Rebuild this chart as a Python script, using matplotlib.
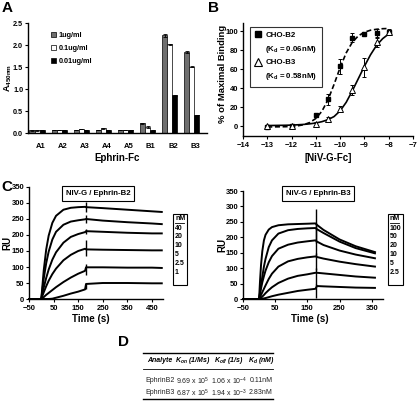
import matplotlib
matplotlib.use("Agg")
import matplotlib.pyplot as plt
from matplotlib.lines import Line2D
from matplotlib.patches import Patch, Rectangle
import numpy as np

plt.rcParams['font.family'] = ['Liberation Sans', 'DejaVu Sans']
plt.rcParams['font.weight'] = 'bold'
plt.rcParams['axes.labelweight'] = 'bold'
plt.rcParams['axes.linewidth'] = 1.0
plt.rcParams['xtick.major.width'] = 0.8
plt.rcParams['ytick.major.width'] = 0.8
plt.rcParams['xtick.major.size'] = 2.5
plt.rcParams['ytick.major.size'] = 2.5
plt.rcParams['xtick.labelsize'] = 5.5
plt.rcParams['ytick.labelsize'] = 5.5
plt.rcParams['xtick.major.pad'] = 1.5
plt.rcParams['ytick.major.pad'] = 1

# ---- A: ELISA binding of NiV-G to ephrin-Fc
ephrins = ['A1', 'A2', 'A3', 'A4', 'A5', 'B1', 'B2', 'B3']
a_1ug = [0.06, 0.07, 0.07, 0.07, 0.07, 0.22, 2.22, 1.84]
a_01ug = [0.06, 0.07, 0.09, 0.11, 0.07, 0.14, 2.02, 1.51]
a_001ug = [0.06, 0.06, 0.06, 0.06, 0.07, 0.06, 0.86, 0.41]
a_1ug_err = [0.005, 0.005, 0.005, 0.005, 0.005, 0.015, 0.03, 0.02]
a_01ug_err = [0.005, 0.005, 0.01, 0.01, 0.005, 0.02, 0.01, 0.02]
a_001ug_err = [0.003, 0.003, 0.003, 0.003, 0.003, 0.005, 0.01, 0.01]

# ---- B: cell binding
b_logc = [-13, -12, -11, -10.5, -10, -9.5, -9, -8.5, -8]
b2_pct = [-1, 0, 12, 28, 63, 93, 97, 98, 99]
b2_err = [1, 1, 2, 6, 8, 5, 1, 4, 2]
b3_pct = [0, 0, 2, 7, 18, 38, 62, 88, 99]
b3_err = [1, 1, 2, 2, 3, 5, 10, 5, 3]
fit_logc = [-13, -12.75, -12.5, -12.25, -12, -11.75, -11.5, -11.25, -11, -10.75, -10.5,
            -10.25, -10, -9.75, -9.5, -9.25, -9, -8.75, -8.5, -8.25, -8]
b2_fit = [-1, -0.9, -0.8, -0.7, -0.4, 0.2, 1.4, 3.7, 8, 15.6, 27.6,
          43.9, 61.6, 77.1, 88.2, 95, 98.8, 100.9, 101.9, 102.5, 102.7]
b3_fit = [0.5, 0.6, 0.7, 0.8, 1.0, 1.3, 1.7, 2.3, 3.2, 4.6, 6.7,
          10, 16, 25, 37, 50, 63, 75, 85, 92, 97]

# ---- C: SPR sensorgrams
t_b2 = [-50, 0, 5, 10, 20, 30, 45, 60, 90, 120, 150, 178, 182, 250, 350, 450, 490]
b2_nM = ['40', '20', '10', '5', '2.5', '1']
b2_ru = [
    [0, 0, 45, 90, 155, 198, 238, 260, 279, 285, 287, 288, 287, 284, 279, 274, 272],
    [0, 0, 32, 64, 112, 148, 186, 210, 232, 242, 246, 249, 250, 245, 240, 236, 234],
    [0, 0, 18, 36, 66, 92, 123, 146, 176, 194, 203, 209, 212, 210, 207, 205, 205],
    [0, 0, 11, 21, 40, 57, 78, 95, 121, 138, 150, 157, 155, 154, 153, 152, 152],
    [0, 0, 3, 6, 13, 19, 28, 37, 53, 67, 79, 88, 99, 99, 98, 98, 97],
    [0, 0, 0, 0, 0, 0, 1, 4, 10, 17, 23, 30, 47, 50, 50, 49, 49],
]
b2_spike_t = 180
b2_spike = [(272, 303), (238, 262), (203, 220), (135, 185), (75, 108), (30, 48)]

t_b3 = [-50, 0, 3, 6, 10, 15, 20, 30, 40, 60, 90, 120, 150, 175, 180, 200, 250, 300, 360]
b3_nM = ['100', '50', '20', '10', '5', '2.5']
b3_ru = [
    [0, 0, 60, 110, 155, 190, 208, 225, 233, 239, 242, 243, 244, 245, 240, 224, 193, 171, 152],
    [0, 0, 22, 45, 72, 105, 130, 168, 190, 212, 223, 227, 229, 230, 226, 214, 186, 165, 148],
    [0, 0, 18, 34, 54, 74, 92, 119, 139, 163, 176, 183, 187, 190, 186, 175, 157, 144, 132],
    [0, 0, 6, 13, 22, 33, 44, 65, 82, 105, 122, 130, 135, 138, 136, 131, 121, 113, 105],
    [0, 0, 2, 4, 8, 13, 19, 29, 38, 52, 66, 75, 80, 85, 85, 83, 78, 73, 69],
    [0, 0, 0, 0, 1, 2, 3, 6, 9, 14, 20, 26, 30, 33, 42, 41, 39, 37, 36],
]
b3_spike_t = 177
b3_spike = [(200, 292), (180, 245), (140, 200), (95, 150), (45, 100), (2, 50)]

# ---- D: kinetic constants
d_header = ['Analyte', 'K$_\\mathregular{on}$ (1/Ms)', 'K$_\\mathregular{off}$ (1/s)', 'K$_\\mathregular{d}$ (nM)']
d_analyte = ['EphrinB2', 'EphrinB3']
d_kon = ['9.69 x 10$^\\mathregular{5}$', '6.87 x 10$^\\mathregular{5}$']
d_koff = ['1.06 x 10$^\\mathregular{-4}$', '1.94 x 10$^\\mathregular{-3}$']
d_kd = ['0.11nM', '2.83nM']

W, H = 418, 401


def box(left, top, right, bottom):
    return [left / W, 1 - bottom / H, (right - left) / W, (bottom - top) / H]


def fx(px):
    return px / W


def fy(py):
    return 1 - py / H


fig = plt.figure(figsize=(W / 100, H / 100), dpi=100)

# ================= A
axA = fig.add_axes(box(28, 23, 207, 133))
x = np.arange(len(ephrins))
bw = 0.23
ekw = dict(elinewidth=0.6, capsize=1.2, capthick=0.6, ecolor='black')
axA.bar(x - bw, a_1ug, bw, yerr=a_1ug_err, color='#6f6f6f', edgecolor='black',
        linewidth=0.5, error_kw=ekw)
axA.bar(x, a_01ug, bw, yerr=a_01ug_err, color='white', edgecolor='black',
        linewidth=0.5, error_kw=ekw)
axA.bar(x + bw, a_001ug, bw, yerr=a_001ug_err, color='black', edgecolor='black',
        linewidth=0.5, error_kw=ekw)
axA.set_xlim(-0.41, 7.69)
axA.set_ylim(0, 2.5)
axA.set_yticks([0, 0.5, 1.0, 1.5, 2.0, 2.5])
axA.set_yticklabels(['0.0', '0.5', '1.0', '1.5', '2.0', '2.5'])
axA.tick_params(axis='y', labelsize=5.2)
axA.set_xticks(x + 0.15)
axA.set_xticklabels(ephrins)
axA.tick_params(axis='x', length=0, pad=7)
axA.set_ylabel('A$_\\mathregular{450nm}$', fontsize=6.5)
axA.yaxis.set_label_coords(-0.078, 0.5)
axA.set_xlabel('Ephrin-Fc', fontsize=7)
axA.xaxis.set_label_coords(0.5, -0.18)
handles = [Patch(facecolor='#6f6f6f', edgecolor='black', linewidth=0.5),
           Patch(facecolor='white', edgecolor='black', linewidth=0.5),
           Patch(facecolor='black', edgecolor='black', linewidth=0.5)]
axA.legend(handles, ['1ug/ml', '0.1ug/ml', '0.01ug/ml'], loc='upper left',
           bbox_to_anchor=(0.09, 0.98), frameon=False, fontsize=5.2,
           handlelength=0.7, handleheight=0.7, handletextpad=0.4, labelspacing=0.85)

# ================= B
axB = fig.add_axes(box(243, 23, 413, 136))
axB.plot(fit_logc, b2_fit, color='black', lw=1.2, dashes=(3, 1.6))
axB.plot(fit_logc, b3_fit, color='black', lw=1.2)
axB.errorbar(b_logc, b2_pct, yerr=b2_err, fmt='s', color='black', ms=3,
             capsize=1.5, elinewidth=0.7, capthick=0.7)
axB.errorbar(b_logc, b3_pct, yerr=b3_err, fmt='^', mfc='white', mec='black',
             ecolor='black', ms=4.2, mew=0.7, capsize=1.5, elinewidth=0.7, capthick=0.7)
axB.set_xlim(-14, -7)
axB.set_ylim(-10.5, 108.5)
axB.set_xticks(range(-14, -6))
axB.set_yticks([0, 20, 40, 60, 80, 100])
axB.set_ylabel('% of Maximal Binding', fontsize=6.8)
axB.yaxis.set_label_coords(-0.095, 0.55)
axB.set_xlabel('[NiV-G-Fc]', fontsize=7)
axB.xaxis.set_label_coords(0.5, -0.15)
leg_h = [Line2D([], [], marker='s', color='black', ls='none', ms=3.8),
         Line2D([], [], ls='none'),
         Line2D([], [], marker='^', mfc='white', mec='black', ls='none', ms=5.2, mew=0.8),
         Line2D([], [], ls='none')]
leg_l = ['CHO-B2', '(K$_\\mathregular{d}$ = 0.06nM)', 'CHO-B3', '(K$_\\mathregular{d}$ = 0.58nM)']
lg = axB.legend(leg_h, leg_l, loc='upper left', bbox_to_anchor=(0.02, 1.0),
                fontsize=5.7, handlelength=0.8, handletextpad=0.5, labelspacing=0.55,
                fancybox=False, edgecolor='black', borderpad=0.6)
lg.get_frame().set_linewidth(0.8)

# ================= C
axC1 = fig.add_axes(box(29, 187, 163, 299))
for ru in b2_ru:
    axC1.plot(t_b2, ru, color='black', lw=1.4, clip_on=False)
for lo, hi in b2_spike:
    axC1.vlines(b2_spike_t, lo, hi, color='black', lw=1.0)
axC1.set_xlim(-50, 495)
axC1.set_ylim(0, 350)
axC1.set_xticks([-50, 50, 150, 250, 350, 450])
axC1.set_yticks(range(0, 351, 50))
axC1.set_ylabel('RU', fontsize=7)
axC1.yaxis.set_label_coords(-0.125, 0.5)
axC1.set_xlabel('Time (s)', fontsize=7)
axC1.xaxis.set_label_coords(0.46, -0.13)
axC1.text(0.515, 0.945, 'NIV-G / Ephrin-B2', transform=axC1.transAxes, fontsize=5.6,
          ha='center', va='center',
          bbox=dict(boxstyle='square,pad=0.5', fc='white', ec='black', lw=0.8))

axC2 = fig.add_axes(box(243, 191, 383, 299))
for ru in b3_ru:
    axC2.plot(t_b3, ru, color='black', lw=1.4, clip_on=False)
for lo, hi in b3_spike:
    axC2.vlines(b3_spike_t, lo, hi, color='black', lw=1.0)
axC2.set_xlim(-50, 385)
axC2.set_ylim(0, 350)
axC2.set_xticks([-50, 50, 150, 250, 350])
axC2.set_yticks(range(0, 351, 50))
axC2.set_ylabel('RU', fontsize=7)
axC2.yaxis.set_label_coords(-0.115, 0.5)
axC2.set_xlabel('Time (s)', fontsize=7)
axC2.xaxis.set_label_coords(0.48, -0.14)
axC2.text(0.536, 0.98, 'NiV-G / Ephrin-B3', transform=axC2.transAxes, fontsize=5.6,
          ha='center', va='center',
          bbox=dict(boxstyle='square,pad=0.5', fc='white', ec='black', lw=0.8))

for ax in (axA, axB, axC1, axC2):
    ax.spines['top'].set_visible(False)
    ax.spines['right'].set_visible(False)

# concentration keys
for (bx0, bx1), labels in (((173, 187), b2_nM), ((388, 403), b3_nM)):
    fig.add_artist(Rectangle((fx(bx0), fy(285)), fx(bx1) - fx(bx0), fy(214) - fy(285),
                             transform=fig.transFigure, fill=False, ec='black', lw=0.8))
    fig.text(fx(bx0 + 2), fy(219), 'nM', fontsize=5, va='center', ha='left')
    fig.add_artist(Line2D([fx(bx0 + 2), fx(bx0 + 11)], [fy(223), fy(223)],
                          transform=fig.transFigure, color='black', lw=0.6))
    for i, lab in enumerate(labels):
        fig.text(fx(bx0 + 2), fy(228 + 8.8 * i), lab, fontsize=5, va='center', ha='left')

# ================= D table
col_x = [160, 193, 229, 261]
for y, lw in ((353, 1.0), (369, 0.6), (399, 1.0)):
    fig.add_artist(Line2D([fx(143), fx(273)], [fy(y), fy(y)], transform=fig.transFigure,
                          color='black', lw=lw))
for cx, h in zip(col_x, d_header):
    fig.text(fx(cx), fy(361), h, fontsize=5, ha='center', va='center', style='italic')
for r, row in enumerate(zip(d_analyte, d_kon, d_koff, d_kd)):
    for cx, val in zip(col_x, row):
        fig.text(fx(cx), fy(381 + 12 * r), val, fontsize=5, ha='center', va='center',
                 weight='normal', color='#222222')

# panel letters
for lab, px, py in (('A', 2, 1), ('B', 208, 1), ('C', 1, 180), ('D', 118, 335)):
    fig.text(fx(px), fy(py), lab, fontsize=11, weight='bold', ha='left', va='top')

fig.savefig('out.png', dpi=100)
